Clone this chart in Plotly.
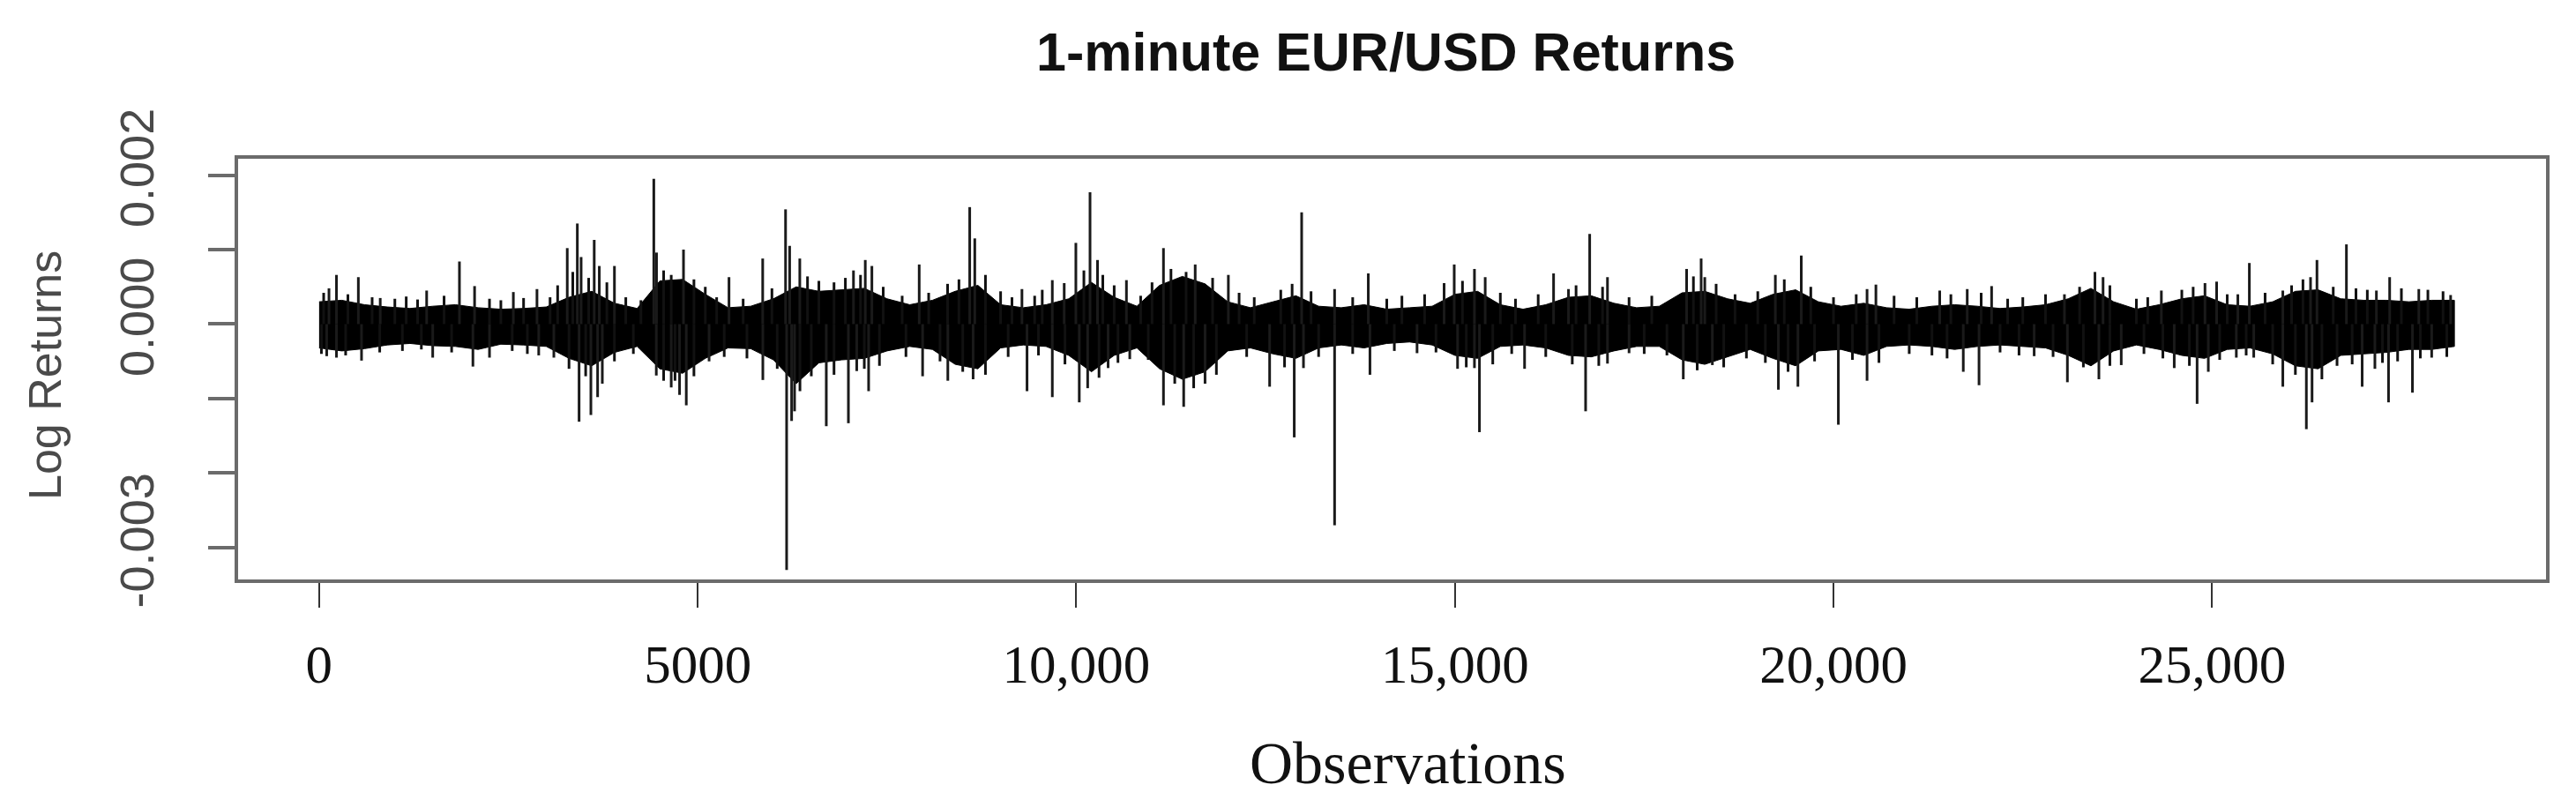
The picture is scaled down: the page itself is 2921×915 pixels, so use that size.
import plotly.graph_objects as go

# Dense band of 1-minute returns, every 300 observations
# (values in units of 1e-4)
band_obs = list(range(0, 28201, 300))
band_upper = [
    3.0, 3.2, 2.6, 2.3, 2.1, 2.4, 2.6, 2.2, 2.0, 2.1,
    2.3, 3.6, 4.4, 2.8, 2.1, 5.8, 6.0, 4.0, 2.2, 2.4,
    3.4, 5.0, 4.4, 4.6, 4.8, 3.4, 2.6, 3.2, 4.4, 5.2,
    2.6, 2.2, 2.6, 3.4, 5.6, 3.6, 2.4, 5.2, 6.4, 5.4,
    3.0, 2.2, 3.0, 3.8, 2.4, 2.2, 2.6, 2.0, 2.2, 2.4,
    4.0, 4.4, 2.6, 2.0, 2.6, 3.6, 3.8, 2.8, 2.2, 2.4,
    4.2, 4.4, 3.4, 2.8, 4.0, 4.6, 3.0, 2.4, 2.8, 2.2,
    2.0, 2.4, 2.6, 2.4, 2.1, 2.3, 2.6, 3.4, 4.8, 3.0,
    2.0, 2.6, 3.4, 3.8, 2.6, 2.4, 3.0, 4.4, 4.6, 3.4,
    3.2, 3.2, 3.0, 3.2, 3.2,
]
band_lower = [
    -3.2, -3.6, -3.3, -2.8, -2.6, -2.9, -3.0, -3.4, -2.7, -2.8,
    -3.0, -4.6, -5.6, -3.8, -3.0, -6.0, -6.6, -4.6, -3.2, -3.3,
    -4.8, -8.0, -5.2, -4.8, -4.6, -3.6, -3.0, -3.4, -5.4, -6.0,
    -3.2, -2.8, -3.0, -4.2, -6.4, -4.2, -3.2, -6.0, -7.4, -6.4,
    -3.6, -3.2, -4.0, -4.6, -3.2, -2.8, -3.2, -2.6, -2.4, -2.8,
    -4.2, -4.6, -3.0, -2.8, -3.2, -4.2, -4.4, -3.6, -3.0, -3.0,
    -4.8, -5.4, -4.4, -3.4, -4.6, -5.6, -3.6, -3.4, -4.2, -3.0,
    -2.8, -3.0, -3.4, -3.0, -2.8, -3.0, -3.2, -4.2, -5.6, -3.6,
    -2.8, -3.4, -4.2, -4.6, -3.4, -3.2, -4.0, -5.6, -6.0, -4.2,
    -4.0, -3.8, -3.4, -3.4, -3.0,
]

# Isolated large returns (observation, value in 1e-4)
spike_up_obs = [
    130, 229, 518, 807, 1420, 1853, 2053, 2565, 2877, 3277,
    3410, 3460, 3633, 3700, 3900, 4420, 4456, 4812, 5413, 5858,
    6160, 6214, 6348, 7057, 7213, 7300, 7925, 8592, 8659, 9282,
    9683, 9840, 9994, 10181, 10280, 10662, 11151, 11570, 12008, 12976,
    13411, 13856, 14857, 14991, 15258, 15400, 16303, 16500, 16780, 17015,
    18060, 18252, 18300, 19232, 19574, 20443, 20560, 21403, 21766, 22088,
    23050, 23453, 23560, 24330, 24906, 25060, 25340, 25492, 25934, 26300,
    26385, 26774, 27170, 27345, 27730, 28150,
]
spike_up_val = [
    4.8, 6.6, 6.3, 3.5, 4.5, 8.4, 5.1, 4.3, 4.7, 10.2,
    13.5, 9.0, 11.3, 7.8, 7.8, 19.5, 9.6, 10.0, 6.3, 8.8,
    15.4, 10.5, 8.8, 7.2, 8.6, 7.8, 8.0, 15.7, 11.5, 4.7,
    5.9, 5.5, 10.9, 17.7, 8.6, 5.9, 10.2, 8.0, 6.6, 15.0,
    4.7, 6.8, 5.5, 8.0, 7.4, 6.3, 6.8, 4.7, 12.1, 6.3,
    7.4, 8.8, 6.3, 6.6, 9.2, 4.7, 5.3, 4.5, 4.7, 5.1,
    4.0, 7.0, 6.3, 4.5, 5.5, 5.7, 4.0, 8.2, 4.5, 6.3,
    8.6, 10.7, 4.5, 6.3, 4.7, 3.9,
]
spike_dn_obs = [
    100, 229, 560, 1500, 2031, 2250, 2900, 3100, 3433, 3589,
    3678, 3740, 4453, 4650, 4760, 4849, 5150, 5860, 6174, 6240,
    6279, 6698, 6990, 7100, 7257, 7970, 8303, 8637, 9349, 9683,
    10039, 10150, 10420, 10706, 11151, 11418, 11700, 12553, 12878, 13000,
    13411, 13878, 14500, 15035, 15258, 15324, 15920, 16726, 17015, 17300,
    18016, 18400, 19272, 19530, 20064, 20443, 21714, 21922, 22650, 23089,
    23505, 23800, 24500, 24802, 24950, 25320, 25550, 25934, 26245, 26320,
    26982, 27150, 27330, 27646, 27900,
]
spike_dn_val = [
    -4.3, -4.5, -4.9, -4.5, -5.7, -4.5, -4.2, -4.5, -13.1, -12.2,
    -9.8, -8.0, -6.9, -8.5, -9.5, -10.9, -5.0, -7.5, -33.0, -13.0,
    -11.7, -13.7, -13.3, -6.3, -9.0, -7.0, -7.6, -7.4, -9.0, -9.8,
    -10.5, -8.6, -5.9, -4.7, -10.9, -11.1, -8.0, -8.4, -15.2, -5.9,
    -27.0, -6.8, -3.9, -6.0, -5.9, -14.5, -6.0, -11.7, -5.3, -3.9,
    -7.4, -5.5, -8.8, -8.4, -13.5, -7.6, -6.4, -8.2, -4.3, -7.8,
    -7.4, -5.5, -5.9, -10.7, -6.4, -4.5, -4.5, -8.4, -14.1, -10.5,
    -8.4, -6.0, -10.5, -9.2, -4.5,
]

# Smaller jagged returns poking out of the band (observation, value in 1e-4)
small_up_obs = [
    60, 380, 700, 1000, 1150, 1300, 1650, 2250, 2400, 2700,
    3050, 3150, 3350, 3560, 3800, 4050, 4250, 4550, 4650, 4950,
    5100, 5250, 5600, 5980, 6450, 6600, 6800, 6950, 7150, 7450,
    7700, 8050, 8300, 8450, 8800, 9000, 9150, 9450, 9550, 10100,
    10350, 10500, 10850, 11000, 11250, 11450, 11800, 12150, 12350, 12700,
    12850, 13100, 13650, 14100, 14300, 14600, 15100, 15600, 15800, 16100,
    16600, 16950, 17300, 17600, 18150, 18450, 18700, 19000, 19350, 19700,
    20000, 20300, 20800, 21100, 21550, 21950, 22300, 22500, 22800, 23250,
    23650, 24000, 24150, 24600, 24750, 25200, 25700, 26050, 26200, 26600,
    26900, 27050, 27500, 27850, 28050,
]
small_up_val = [
    4.2, 4.0, 3.6, 3.4, 3.7, 3.3, 3.8, 3.4, 3.2, 3.5,
    3.6, 5.2, 7.0, 6.2, 5.6, 3.6, 3.2, 7.2, 6.6, 6.0,
    5.0, 3.6, 3.4, 4.8, 6.4, 5.8, 5.6, 6.2, 6.6, 5.0,
    3.8, 4.2, 5.4, 6.0, 6.6, 4.4, 3.6, 3.8, 4.6, 7.2,
    6.6, 5.2, 3.8, 5.6, 7.4, 7.0, 6.2, 4.2, 3.6, 4.6,
    5.4, 4.4, 3.6, 3.4, 3.8, 4.0, 5.8, 4.2, 3.4, 4.0,
    5.2, 5.0, 3.6, 3.8, 6.4, 5.4, 4.0, 4.4, 6.0, 5.0,
    3.6, 4.0, 3.8, 3.6, 4.0, 4.2, 3.4, 3.6, 4.0, 5.0,
    5.2, 3.4, 3.6, 4.6, 5.0, 4.0, 4.2, 5.2, 6.0, 5.0,
    4.8, 4.6, 4.8, 4.6, 4.4,
]
small_dn_obs = [
    30, 350, 800, 1100, 1350, 1750, 2550, 2750, 3300, 3520,
    3900, 4150, 4550, 4700, 4950, 5350, 5650, 6050, 6350, 6500,
    6800, 7200, 7400, 7750, 8200, 8500, 8800, 9100, 9500, 9850,
    10300, 10550, 10950, 11300, 11550, 11850, 12250, 12750, 13200, 13650,
    14200, 14750, 15150, 15500, 15750, 16200, 16550, 16900, 17500, 17800,
    18200, 18550, 18850, 19100, 19400, 19750, 20250, 20600, 21000, 21300,
    21500, 22200, 22450, 22900, 23300, 23650, 24100, 24350, 24700, 25100,
    25450, 25800, 26100, 26450, 26650, 26850, 27250, 27450, 27750, 28100,
]
small_dn_val = [
    -4.0, -4.2, -3.8, -3.6, -3.4, -3.8, -3.6, -4.0, -6.0, -7.0,
    -5.0, -4.0, -7.6, -7.6, -7.0, -4.4, -4.6, -6.0, -9.0, -7.0,
    -6.8, -6.0, -5.6, -4.4, -5.0, -6.4, -6.8, -4.4, -4.2, -5.4,
    -7.2, -5.2, -4.8, -8.0, -8.6, -6.8, -4.4, -5.8, -4.4, -4.0,
    -3.6, -3.8, -5.8, -5.4, -4.0, -4.4, -5.4, -5.6, -4.0, -4.2,
    -6.2, -5.8, -4.6, -5.2, -6.4, -5.0, -4.8, -5.2, -4.0, -4.2,
    -4.6, -3.8, -4.2, -4.4, -5.8, -5.6, -4.0, -4.6, -5.6, -4.8,
    -4.2, -5.4, -6.8, -7.4, -5.6, -5.4, -5.2, -5.0, -4.6, -4.4,
]

x_tick_vals = [0, 5000, 10000, 15000, 20000, 25000]
x_tick_text = ["0", "5000", "10,000", "15,000", "20,000", "25,000"]
y_tick_vals = [-0.003, -0.002, -0.001, 0.0, 0.001, 0.002]
y_tick_text = ["-0.003", "", "", "0.000", "", "0.002"]

scale = 1e-4
upper = [v * scale for v in band_upper]
lower = [v * scale for v in band_lower]


def spike_path(obs, vals):
    xs, ys = [], []
    for o, v in zip(obs, vals):
        xs += [o, o, None]
        ys += [0, v * scale, None]
    return xs, ys


big_x, big_y = spike_path(spike_up_obs + spike_dn_obs, spike_up_val + spike_dn_val)
small_x, small_y = spike_path(small_up_obs + small_dn_obs, small_up_val + small_dn_val)

W, H = 2921, 915
ML, MR, MT, MB = 262, 42, 172, 266
PW, PH = W - ML - MR, H - MT - MB


def px_x(p):
    return (p - ML) / PW


def px_y(p):
    return (H - MB - p) / PH


fig = go.Figure()
fig.add_trace(go.Scatter(
    x=band_obs + band_obs[::-1],
    y=upper + lower[::-1],
    fill="toself",
    fillcolor="black",
    mode="lines",
    line=dict(color="black", width=1),
    hoverinfo="skip",
    showlegend=False,
))
fig.add_trace(go.Scatter(
    x=small_x, y=small_y, mode="lines",
    line=dict(color="#111111", width=3),
    hoverinfo="skip", showlegend=False,
))
fig.add_trace(go.Scatter(
    x=big_x, y=big_y, mode="lines",
    line=dict(color="#1a1a1a", width=3),
    hoverinfo="skip", showlegend=False,
))

axis_grey = "#6b6b6b"
fig.update_layout(
    width=W,
    height=H,
    margin=dict(l=ML, r=MR, t=MT, b=MB),
    paper_bgcolor="white",
    plot_bgcolor="white",
    showlegend=False,
    xaxis=dict(
        range=[-1070, 29410],
        tickmode="array",
        tickvals=x_tick_vals,
        ticktext=x_tick_text,
        ticks="outside",
        ticklen=28,
        tickwidth=2,
        tickcolor="#333333",
        ticklabelstandoff=12,
        tickfont=dict(family="Liberation Serif", size=61, color="#111111"),
        showline=True,
        linecolor=axis_grey,
        linewidth=4,
        mirror=True,
        showgrid=False,
        zeroline=False,
    ),
    yaxis=dict(
        range=[-0.003427, 0.002219],
        tickmode="array",
        tickvals=y_tick_vals,
        ticktext=y_tick_text,
        ticks="outside",
        ticklen=30,
        tickwidth=4,
        tickcolor=axis_grey,
        tickangle=-90,
        ticklabelstandoff=40,
        tickfont=dict(family="Liberation Sans", size=54, color="#4a4a4a"),
        showline=True,
        linecolor=axis_grey,
        linewidth=4,
        mirror=True,
        showgrid=False,
        zeroline=False,
    ),
    annotations=[
        dict(text="<b>1-minute EUR/USD Returns</b>", xref="paper", yref="paper",
             x=px_x(1563), y=px_y(51), xanchor="center", yanchor="middle",
             showarrow=False, font=dict(family="Liberation Sans", size=61, color="#111111")),
        dict(text="Observations", xref="paper", yref="paper",
             x=px_x(1588), y=px_y(857), xanchor="center", yanchor="middle",
             showarrow=False, font=dict(family="Liberation Serif", size=68, color="#111111")),
        dict(text="Log Returns", xref="paper", yref="paper",
             x=px_x(43), y=px_y(418), xanchor="center", yanchor="middle", textangle=-90,
             showarrow=False, font=dict(family="Liberation Sans", size=52, color="#4a4a4a")),
    ],
)

fig.write_html("out.html")
